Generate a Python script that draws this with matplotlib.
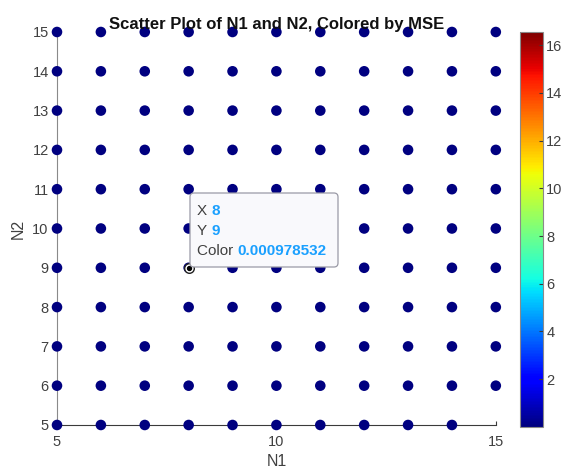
import numpy as np
import matplotlib
matplotlib.use("Agg")
import matplotlib.pyplot as plt
from matplotlib.patches import FancyBboxPatch

plt.rcParams['font.family'] = ['Liberation Sans', 'DejaVu Sans']

n1_values = [5, 6, 7, 8, 9, 10, 11, 12, 13, 14, 15]
n2_values = [5, 6, 7, 8, 9, 10, 11, 12, 13, 14, 15]
# MSE per (N2 row, N1 column); rows from N2=5 up to N2=15
mse_rows = [
    [0.0210, 0.0150, 0.0120, 0.0090, 0.0080, 0.0070, 0.0060, 0.0050, 0.0050, 0.0040, np.nan],
    [0.0180, 0.0120, 0.0090, 0.0070, 0.0060, 0.0050, 0.0050, 0.0040, 0.0040, 0.0030, 0.0030],
    [0.0150, 0.0100, 0.0070, 0.0050, 0.0040, 0.0040, 0.0030, 0.0030, 0.0030, 0.0030, 0.0020],
    [0.0130, 0.0080, 0.0050, 0.0040, 0.0030, 0.0030, 0.0030, 0.0020, 0.0020, 0.0020, 0.0020],
    [0.0120, 0.0070, 0.0040, 0.000978532, 0.0030, 0.0020, 0.0020, 0.0020, 0.0020, 0.0020, 0.0020],
    [0.0110, 0.0060, 0.0040, 0.0030, 0.0020, 16.55, 0.0020, 0.0020, 0.0020, 0.0020, 0.0020],
    [0.0100, 0.0060, 0.0040, 0.0030, 0.0020, 0.0020, 0.0020, 0.0020, 0.0020, 0.0020, 0.0020],
    [0.0100, 0.0050, 0.0040, 0.0030, 0.0020, 0.0020, 0.0020, 0.0020, 0.0020, 0.0020, 0.0020],
    [0.0090, 0.0050, 0.0030, 0.0030, 0.0020, 0.0020, 0.0020, 0.0020, 0.0020, 0.0020, 0.0020],
    [0.0090, 0.0050, 0.0030, 0.0020, 0.0020, 0.0020, 0.0020, 0.0020, 0.0020, 0.0020, 0.0020],
    [0.0090, 0.0050, 0.0030, 0.0020, 0.0020, 0.0020, 0.0020, 0.0020, 0.0020, 0.0020, 0.0020],
]
x_ticks = [5, 10, 15]
y_ticks = [5, 6, 7, 8, 9, 10, 11, 12, 13, 14, 15]
cbar_ticks = [2, 4, 6, 8, 10, 12, 14, 16]
tip_x, tip_y, tip_c = 8, 9, 0.000978532

N1, N2 = np.meshgrid(n1_values, n2_values)
mse = np.array(mse_rows, dtype=float)

fig = plt.figure(figsize=(5.66, 4.74), dpi=100)
ax = fig.add_axes([0.1007, 0.1034, 0.7753, 0.8291])
cax = fig.add_axes([0.919, 0.1034 - 0.004, 0.041, 0.8291 + 0.004])

cmap = plt.get_cmap('jet').copy()
cmap.set_bad((0, 0, 0, 0))
sc = ax.scatter(N1.ravel(), N2.ravel(), c=mse.ravel(), cmap=cmap,
                vmin=np.nanmin(mse), vmax=np.nanmax(mse),
                s=58, edgecolors='none', clip_on=False, zorder=3)

ax.set_xlim(5, 15)
ax.set_ylim(5, 15)
ax.set_xticks(x_ticks)
ax.set_yticks(y_ticks)
for side in ['top', 'right']:
    ax.spines[side].set_visible(False)
ax.spines['left'].set_color('#8a8a8a')
ax.spines['bottom'].set_color('#3a3a3a')
ax.spines['left'].set_linewidth(0.8)
ax.spines['bottom'].set_linewidth(0.8)
ax.tick_params(direction='in', length=3, colors='#3a3a3a', labelsize=10.5,
               labelcolor='#404040', pad=6)
ax.tick_params(axis='x', pad=7)
ax.set_xlabel('N1', fontsize=11.5, color='#404040', labelpad=4)
ax.set_ylabel('N2', fontsize=11.5, color='#404040', labelpad=5)
ax.set_title('Scatter Plot of N1 and N2, Colored by MSE', fontsize=12,
             fontweight='bold', color='#111111', pad=0)

cb = fig.colorbar(sc, cax=cax)
cb.set_ticks(cbar_ticks)
cb.outline.set_edgecolor('#8a8a8a')
cb.outline.set_linewidth(0.8)
cax.tick_params(direction='in', length=3, colors='#3a3a3a', labelsize=10.5,
                labelcolor='#404040', pad=2)

# data tip
ax.scatter([tip_x], [tip_y], s=48, facecolors='white', edgecolors='#222222',
           linewidths=1.0, zorder=6, clip_on=False)
ax.scatter([tip_x], [tip_y], s=8, color='black', zorder=7, clip_on=False)
box = FancyBboxPatch((190, 474 - 267), 148, 74, transform=None,
                     boxstyle='round,pad=0,rounding_size=4',
                     facecolor='#f9f9fc', edgecolor='#9a9aa6', linewidth=0.9,
                     zorder=5)
fig.patches.append(box)
blue = '#1aa0ff'
gray = '#404040'
lines = [('X ', f'{tip_x}'), ('Y ', f'{tip_y}'), ('Color ', f'{tip_c:.9f}'.rstrip('0'))]
ys = [211, 231, 251]
for (lab, val), yy in zip(lines, ys):
    t = fig.text(197 / 566, 1 - yy / 474, lab, fontsize=11, color=gray,
                 va='center', ha='left', zorder=8)
    fig.canvas.draw()
    bb = t.get_window_extent()
    fig.text(bb.x1 / 566, 1 - yy / 474, val, fontsize=11, color=blue,
             fontweight='bold', va='center', ha='left', zorder=8)

fig.savefig('out.png', dpi=100)
